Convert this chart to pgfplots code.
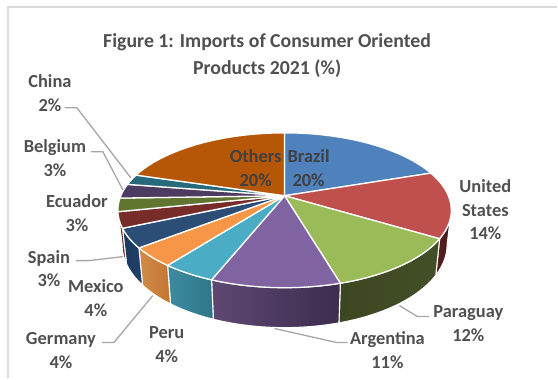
\documentclass[border=0pt]{standalone}
\usepackage{pgfplots}
\pgfplotsset{compat=1.18}
\usepackage{fontspec}
\setmainfont{Carlito}

% Slice colours: top face, then wall gradient left and right
\definecolor{cBrazil}{HTML}{4F81BD}
\definecolor{cUS}{HTML}{C0504D}
\definecolor{cPar}{HTML}{9BBB59}
\definecolor{cArg}{HTML}{8064A2}
\definecolor{cPeru}{HTML}{4BACC6}
\definecolor{cGer}{HTML}{F79646}
\definecolor{cMex}{HTML}{2C4D75}
\definecolor{cSpa}{HTML}{772C2A}
\definecolor{cEcu}{HTML}{5F7530}
\definecolor{cBel}{HTML}{4D3B62}
\definecolor{cChi}{HTML}{276A7C}
\definecolor{cOth}{HTML}{B65708}
\definecolor{wUSa}{HTML}{5A2020}
\definecolor{wUSb}{HTML}{481818}
\definecolor{wParA}{HTML}{3C4722}
\definecolor{wParB}{HTML}{434F26}
\definecolor{wArgA}{HTML}{5E4872}
\definecolor{wArgB}{HTML}{3C2C4E}
\definecolor{wPerA}{HTML}{3D8BA0}
\definecolor{wPerB}{HTML}{2F7689}
\definecolor{wGerA}{HTML}{D08C48}
\definecolor{wGerB}{HTML}{C47632}
\definecolor{wMexA}{HTML}{1D3A5E}
\definecolor{wMexB}{HTML}{1F4068}
\definecolor{wSpaA}{HTML}{5A2020}
\definecolor{wSpaB}{HTML}{6A2626}
\definecolor{ink}{HTML}{505050}
\definecolor{inkdark}{HTML}{404040}
\definecolor{leader}{HTML}{A6A6A6}
\definecolor{framegray}{HTML}{D9D9D9}

% Share of each slice (%), clockwise from twelve o'clock: value/top colour/wall left/wall right
\def\pieshares{19.8/cBrazil/cBrazil/cBrazil,13.9/cUS/wUSa/wUSb,11.8/cPar/wParA/wParB,10.5/cArg/wArgA/wArgB,4.4/cPeru/wPerA/wPerB,4.0/cGer/wGerA/wGerB,4.0/cMex/wMexA/wMexB,3.3/cSpa/wSpaA/wSpaB,2.8/cEcu/cEcu/cEcu,3.0/cBel/cBel/cBel,2.2/cChi/cChi/cChi,20.3/cOth/cOth/cOth}

% Perspective view of the pie disc
\def\pieCx{285}\def\pieCy{196}\def\pieRx{164}\def\pieRy{74.8}\def\piePersp{0.188}
\def\wallFrom{100.8}\def\wallTo{259.2}

% Appends an arc to \pieList: #1 start angle, #2 end angle, #3 = 0 top rim, 1 bottom rim
\newcommand\appendarc[3]{%
  \pgfmathtruncatemacro\arcSteps{max(2,ceil(abs(#2-#1)/3))}%
  \foreach \arcI in {0,...,\arcSteps}{%
    \pgfmathsetmacro\arcT{#1+(#2-#1)*\arcI/\arcSteps}%
    \pgfmathsetmacro\arcU{sin(\arcT)}%
    \pgfmathsetmacro\arcV{cos(\arcT)}%
    \pgfmathsetmacro\arcD{1+\piePersp*\arcV}%
    \ifnum#3=0
      \pgfmathsetmacro\arcX{\pieCx+\pieRx*\arcU/\arcD}%
      \pgfmathsetmacro\arcY{\pieCy-\pieRy*\arcV/\arcD}%
    \else
      \pgfmathsetmacro\arcX{\pieCx+0.975*\pieRx*\arcU/\arcD}%
      \pgfmathsetmacro\arcY{\pieCy-\pieRy*\arcV/\arcD+33-7*\arcV}%
    \fi
    \xdef\pieList{\pieList (\arcX,\arcY)}%
  }%
}

\begin{document}
\begin{tikzpicture}
\begin{axis}[
  scale only axis, width=558bp, height=379bp,
  xmin=0, xmax=558, ymin=0, ymax=379, y dir=reverse,
  axis lines=none, clip=false,
]
% Invisible outline that fixes the picture's extent
\addplot[draw=none] coordinates {(0,0) (558,0) (558,379) (0,379)};

% Outer walls
\gdef\cumul{0}
\foreach \val/\ctop/\wa/\wb in \pieshares {%
  \pgfmathsetmacro\angA{\cumul*3.6}%
  \pgfmathsetmacro\angB{(\cumul+\val)*3.6}%
  \pgfmathsetmacro\wstart{max(\angA,\wallFrom)}%
  \pgfmathsetmacro\wend{min(\angB,\wallTo)}%
  \pgfmathparse{\wend>\wstart?1:0}%
  \ifdim\pgfmathresult pt>0.5pt
    \gdef\pieList{}%
    \appendarc{\wstart}{\wend}{0}%
    \appendarc{\wend}{\wstart}{1}%
    \edef\temp{\noexpand\addplot[draw=white, line width=1.1pt, left color=\wa, right color=\wb] coordinates {\pieList} -- cycle;}%
    \temp
  \fi
  \pgfmathsetmacro\newcum{\cumul+\val}%
  \xdef\cumul{\newcum}%
}

% Top faces
\gdef\cumul{0}
\foreach \val/\ctop/\wa/\wb in \pieshares {%
  \pgfmathsetmacro\angA{\cumul*3.6}%
  \pgfmathsetmacro\angB{(\cumul+\val)*3.6}%
  \xdef\pieList{(\pieCx,\pieCy)}%
  \appendarc{\angA}{\angB}{0}%
  \edef\temp{\noexpand\addplot[draw=white, line width=1.3pt, line join=round, fill=\ctop] coordinates {\pieList} -- cycle;}%
  \temp
  \pgfmathsetmacro\newcum{\cumul+\val}%
  \xdef\cumul{\newcum}%
}

% Leader lines
\addplot[leader, line width=1.3pt] coordinates {(65,108) (77,108) (131,178)};
\addplot[leader, line width=1.3pt] coordinates {(91,152) (103,152) (123,190)};
\addplot[leader, line width=1.3pt] coordinates {(76,261) (89,261) (123,257)};
\addplot[leader, line width=1.3pt] coordinates {(102,343) (114,343) (153,296)};
\addplot[leader, line width=1.3pt] coordinates {(275,329) (337,343) (348,343)};
\addplot[leader, line width=1.3pt] coordinates {(400,306) (418,317) (430,317)};

% Frame of the chart area
\addplot[draw=framegray, line width=1.6pt] coordinates {(8,379) (8,7) (558,7)};

% Title
\node[text=ink, font=\bfseries\fontsize{19.9}{27}\selectfont, align=center] at (axis cs:267.5,55.5) {Figure 1: Imports of Consumer Oriented\\Products 2021 (\%)};

% Data labels
\tikzset{lab/.style={text=ink, font=\bfseries\fontsize{18.5}{24}\selectfont, align=center, inner sep=0pt}}
\node[lab] at (axis cs:50,93.5) {China\\2\%};
\node[lab] at (axis cs:55,158.5) {Belgium\\3\%};
\node[lab] at (axis cs:77,213.5) {Ecuador\\3\%};
\node[lab] at (axis cs:49,269) {Spain\\3\%};
\node[lab] at (axis cs:96,298.5) {Mexico\\4\%};
\node[lab] at (axis cs:61,351) {Germany\\4\%};
\node[lab] at (axis cs:167,345) {Peru\\4\%};
\node[lab] at (axis cs:388,351) {Argentina\\11\%};
\node[lab] at (axis cs:469,324.5) {Paraguay\\12\%};
\node[lab] at (axis cs:486,210) {United\\States\\14\%};
\node[lab, text=inkdark] at (axis cs:256,168.5) {Others\\20\%};
\node[lab, text=inkdark] at (axis cs:309,168.5) {Brazil\\20\%};
\end{axis}
\end{tikzpicture}
\end{document}
